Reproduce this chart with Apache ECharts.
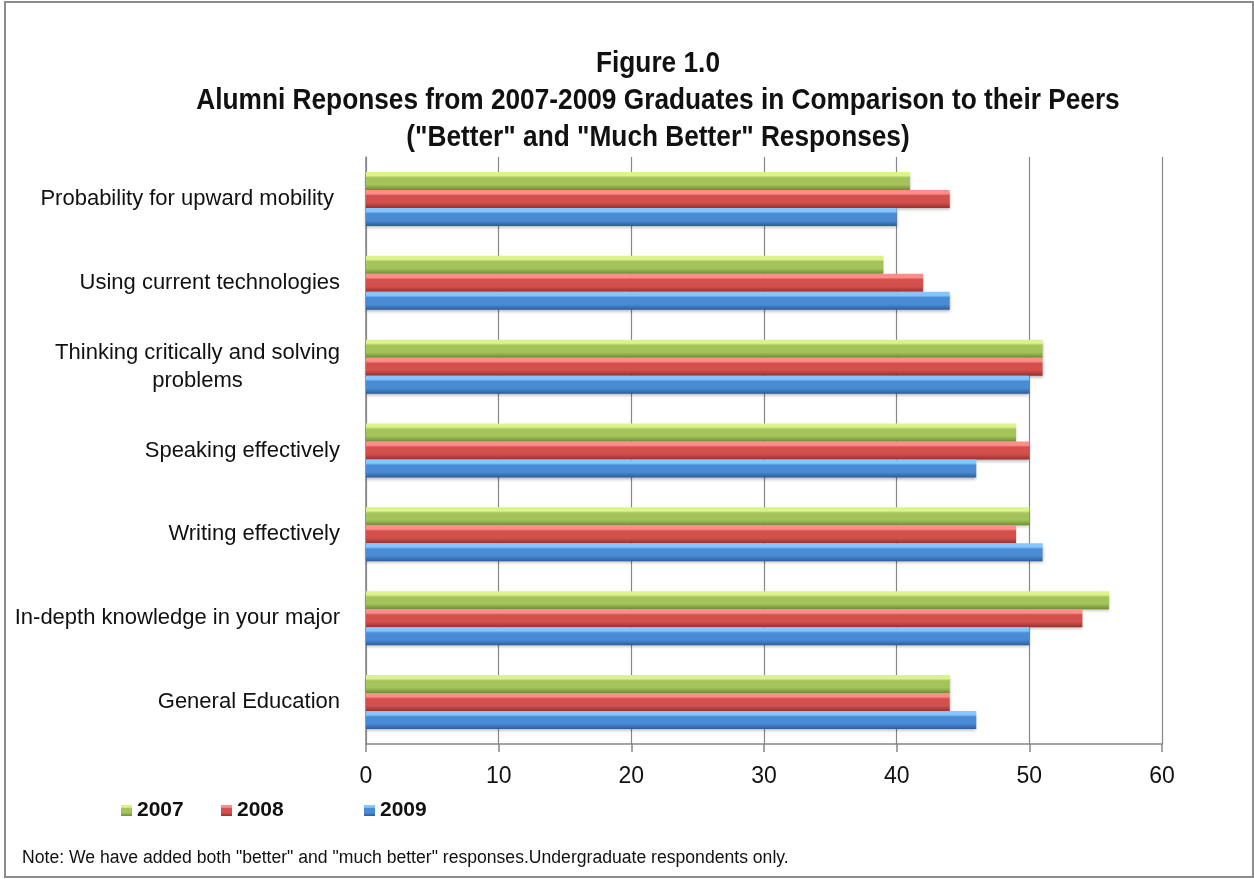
<!DOCTYPE html>
<html>
<head>
<meta charset="utf-8">
<script src="https://cdn.jsdelivr.net/npm/echarts@6/dist/echarts.min.js"></script>
<style>
  html, body { margin: 0; padding: 0; background: #ffffff; }
  #chart { width: 1254px; height: 879px; }
</style>
</head>
<body>
<div id="chart"></div>
<script>
// Categories listed bottom-to-top along the value axis
const categories = [
  'General Education',
  'In-depth knowledge in your major',
  'Writing effectively',
  'Speaking effectively',
  'Thinking critically and solving problems',
  'Using current technologies',
  'Probability for upward mobility '
];
const values2007 = [44, 56, 50, 49, 51, 39, 41];
const values2008 = [44, 54, 49, 50, 51, 42, 44];
const values2009 = [46, 50, 51, 46, 50, 44, 40];
const xTicks = [0, 10, 20, 30, 40, 50, 60];
const titleLines = [
  'Figure 1.0',
  'Alumni Reponses from 2007-2009 Graduates in Comparison to their Peers',
  '("Better" and "Much Better" Responses)'
];
const noteText = 'Note: We have added both "better" and "much better" responses.Undergraduate respondents only.';

const FONT = '"Liberation Sans", Arial, sans-serif';

function bevel(light, mid, dark) {
  return new echarts.graphic.LinearGradient(0, 0, 0, 1, [
    { offset: 0, color: light },
    { offset: 0.2, color: light },
    { offset: 0.32, color: mid },
    { offset: 0.7, color: mid },
    { offset: 1, color: dark }
  ]);
}

const styles = {
  '2007': { grad: bevel('#dcf28a', '#a3c45a', '#6e8c32') },
  '2008': { grad: bevel('#ff8e8a', '#d4504c', '#97302e') },
  '2009': { grad: bevel('#85c6ff', '#4a8bd6', '#2d5c98') }
};

function barSeries(name, data) {
  return {
    name: name,
    type: 'bar',
    data: data,
    barWidth: 18,
    barGap: '0%',
    itemStyle: {
      color: styles[name].grad,
      shadowColor: 'rgba(0,0,0,0.28)',
      shadowBlur: 3,
      shadowOffsetY: 2
    }
  };
}

function legendAt(name, left) {
  return {
    data: [{ name: name, icon: 'rect', itemStyle: { color: styles[name].grad } }],
    left: left,
    top: 795,
    itemWidth: 11,
    itemHeight: 11,
    itemGap: 4,
    textStyle: { fontFamily: FONT, fontWeight: 'bold', fontSize: 21, color: '#111' }
  };
}

// Condensed title lines: bold face squeezed horizontally around the centre x
const titleGraphics = titleLines.map((t, i) => ({
  type: 'text',
  x: 658,
  y: 64 + i * 37,
  scaleX: 0.875,
  silent: true,
  style: {
    text: t,
    textAlign: 'center',
    textVerticalAlign: 'middle',
    fontFamily: FONT,
    fontWeight: 'bold',
    fontSize: 30,
    fill: '#111'
  }
}));

const chart = echarts.init(document.getElementById('chart'), null, { renderer: 'canvas' });
chart.setOption({
  backgroundColor: '#ffffff',
  animation: false,
  legend: [legendAt('2007', 116), legendAt('2008', 216), legendAt('2009', 359)],
  grid: { left: 366, right: 92, top: 157, bottom: 135, containLabel: false },
  xAxis: {
    type: 'value',
    min: 0,
    max: 60,
    interval: 10,
    axisLine: { show: true, lineStyle: { color: '#868686', width: 1.5 } },
    axisTick: { show: true, length: 8, lineStyle: { color: '#868686', width: 1.5 } },
    splitLine: { show: true, lineStyle: { color: '#868686', width: 1.2 } },
    axisLabel: {
      margin: 21,
      fontFamily: FONT,
      fontSize: 23,
      color: '#111',
      formatter: v => (xTicks.indexOf(v) >= 0 ? String(v) : '')
    }
  },
  yAxis: {
    type: 'category',
    data: categories,
    axisLine: { show: true, lineStyle: { color: '#868686', width: 1.5 } },
    axisTick: { show: false },
    axisLabel: {
      margin: 26,
      fontFamily: FONT,
      fontSize: 22,
      color: '#111',
      lineHeight: 28,
      formatter: function (v) {
        if (v === 'Thinking critically and solving problems') {
          return '{c|Thinking critically and solving}\n{c|problems}';
        }
        return v;
      },
      rich: { c: { align: 'center', fontFamily: FONT, fontSize: 22, lineHeight: 28, color: '#111' } }
    }
  },
  series: [
    barSeries('2007', values2007),
    barSeries('2008', values2008),
    barSeries('2009', values2009)
  ],
  graphic: [
    {
      type: 'rect',
      shape: { x: 5, y: 2, width: 1248, height: 875 },
      style: { fill: 'none', stroke: '#8c8c8c', lineWidth: 2 },
      silent: true
    },
    ...titleGraphics,
    {
      type: 'text',
      x: 22,
      y: 858,
      silent: true,
      style: {
        text: noteText,
        textVerticalAlign: 'middle',
        fontFamily: FONT,
        fontSize: 17.6,
        fill: '#111'
      }
    }
  ]
});
</script>
</body>
</html>
